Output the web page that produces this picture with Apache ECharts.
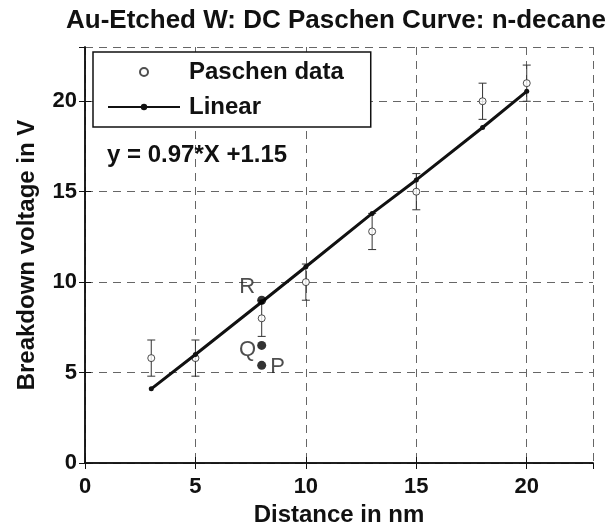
<!DOCTYPE html>
<html>
<head>
<meta charset="utf-8">
<script src="https://cdn.jsdelivr.net/npm/echarts@6/dist/echarts.min.js"></script>
<style>
html,body{margin:0;padding:0;background:#fff;}
#chart{width:614px;height:522px;}
</style>
</head>
<body>
<div id="chart"></div>
<script>
// ---- data ----
const distance = [3, 5, 8, 10, 13, 15, 18, 20];
const paschenVoltage = [5.8, 5.8, 8.0, 10.0, 12.8, 15.0, 20.0, 21.0];
const errorLow = [4.8, 4.8, 7.0, 9.0, 11.8, 14.0, 19.0, 20.0];
const errorHigh = [6.8, 6.8, 9.0, 11.0, 13.8, 16.0, 21.0, 22.0];
const linearFit = [4.1, 6.0, 8.9, 10.85, 13.8, 15.65, 18.55, 20.55];
const markedNames = ['R', 'Q', 'P'];
const markedX = [8, 8, 8];
const markedY = [9.0, 6.5, 5.4];
const titleText = 'Au-Etched W: DC Paschen Curve: n-decane';
const equationText = 'y = 0.97*X +1.15';
const xName = 'Distance in nm';
const yName = 'Breakdown voltage in V';

const FONT = '"Liberation Sans", Arial, sans-serif';

const paschenPts = distance.map((x, i) => [x, paschenVoltage[i]]);
const errPts = distance.map((x, i) => [x, errorLow[i], errorHigh[i]]);
const linearPts = distance.map((x, i) => [x, linearFit[i]]);
const markedPts = markedX.map((x, i) => ({ value: [x, markedY[i]], name: markedNames[i] }));

const labelOffsets = { R: ['left', [3, -13]], Q: ['left', [4, 5]], P: ['right', [-1, 2]] };

const chart = echarts.init(document.getElementById('chart'), null, { renderer: 'canvas' });

const tickLabel = { color: '#111', fontFamily: FONT, fontWeight: 'bold', fontSize: 22 };

chart.setOption({
  animation: false,
  backgroundColor: '#fff',
  title: {
    text: titleText,
    left: 61, top: 3,
    textStyle: { color: '#111', fontFamily: FONT, fontWeight: 'bold', fontSize: 26 }
  },
  legend: {
    orient: 'vertical',
    left: 93, top: 52,
    padding: [8, 27, 8, 14],
    itemGap: 11,
    itemWidth: 72, itemHeight: 8,
    borderColor: '#111', borderWidth: 1.5,
    backgroundColor: '#fff',
    textStyle: { color: '#111', fontFamily: FONT, fontWeight: 'bold', fontSize: 24, lineHeight: 24, padding: [0, 0, 0, 4] },
    data: ['Paschen data', 'Linear']
  },
  graphic: [{
    type: 'text', left: 107, top: 143, z: 100,
    style: { text: equationText, fill: '#111', font: 'bold 24px ' + FONT }
  }],
  grid: { left: 85, right: 21, top: 47, bottom: 59, outerBoundsMode: 'none', containLabel: false },
  xAxis: [{
    type: 'value', min: 0, max: 23, interval: 5,
    name: xName, nameLocation: 'middle', nameGap: 38,
    nameTextStyle: { color: '#111', fontFamily: FONT, fontWeight: 'bold', fontSize: 24 },
    axisLine: { lineStyle: { color: '#111', width: 1.5 } },
    axisTick: { inside: true, length: 6, lineStyle: { color: '#111' } },
    axisLabel: Object.assign({ margin: 13, showMaxLabel: false }, tickLabel),
    splitLine: { show: true, lineStyle: { color: '#666', type: [8, 6], width: 1 } }
  }, {
    type: 'value', min: 0, max: 23, interval: 5, position: 'top',
    axisLine: { lineStyle: { color: '#111', width: 1.5 } },
    axisTick: { inside: true, length: 6, lineStyle: { color: '#111' } },
    axisLabel: { show: false }, splitLine: { show: false }
  }],
  yAxis: [{
    type: 'value', min: 0, max: 23, interval: 5,
    name: yName, nameLocation: 'middle', nameGap: 46,
    nameTextStyle: { color: '#111', fontFamily: FONT, fontWeight: 'bold', fontSize: 24 },
    axisLine: { show: true, lineStyle: { color: '#111', width: 1.5 } },
    axisTick: { show: true, inside: true, length: 6, lineStyle: { color: '#111' } },
    axisLabel: Object.assign({ margin: 8, showMaxLabel: false }, tickLabel),
    splitLine: { show: true, lineStyle: { color: '#666', type: [8, 6], width: 1 } }
  }, {
    type: 'value', min: 0, max: 23, interval: 5, position: 'right',
    axisLine: { show: true, lineStyle: { color: '#111', width: 1.5 } },
    axisTick: { show: true, inside: true, length: 6, lineStyle: { color: '#111' } },
    axisLabel: { show: false }, splitLine: { show: false }
  }],
  series: [
    {
      name: 'Error', type: 'custom', z: 3,
      data: errPts,
      renderItem: function (params, api) {
        const x = api.value(0);
        const lo = api.coord([x, api.value(1)]);
        const hi = api.coord([x, api.value(2)]);
        const w = 4;
        const st = { stroke: '#333', lineWidth: 1 };
        return {
          type: 'group',
          children: [
            { type: 'line', shape: { x1: lo[0], y1: lo[1], x2: hi[0], y2: hi[1] }, style: st },
            { type: 'line', shape: { x1: lo[0] - w, y1: lo[1], x2: lo[0] + w, y2: lo[1] }, style: st },
            { type: 'line', shape: { x1: hi[0] - w, y1: hi[1], x2: hi[0] + w, y2: hi[1] }, style: st }
          ]
        };
      }
    },
    {
      name: 'Paschen data', type: 'scatter', z: 4,
      symbol: 'circle', symbolSize: 7,
      itemStyle: { color: '#fff', borderColor: '#222', borderWidth: 1 },
      data: paschenPts
    },
    {
      name: 'Linear', type: 'line', z: 5,
      symbol: 'circle', symbolSize: 5, showSymbol: true,
      lineStyle: { color: '#111', width: 3 },
      itemStyle: { color: '#111' },
      data: linearPts
    },
    {
      name: 'Marked', type: 'scatter', z: 6,
      symbol: 'circle', symbolSize: 9,
      itemStyle: { color: '#000' },
      data: markedPts.map(p => ({
        value: p.value, name: p.name,
        label: {
          show: true, formatter: '{b}', position: labelOffsets[p.name][0], offset: labelOffsets[p.name][1],
          distance: 5, color: '#222', fontFamily: FONT, fontSize: 22
        }
      }))
    }
  ]
});
</script>
</body>
</html>
